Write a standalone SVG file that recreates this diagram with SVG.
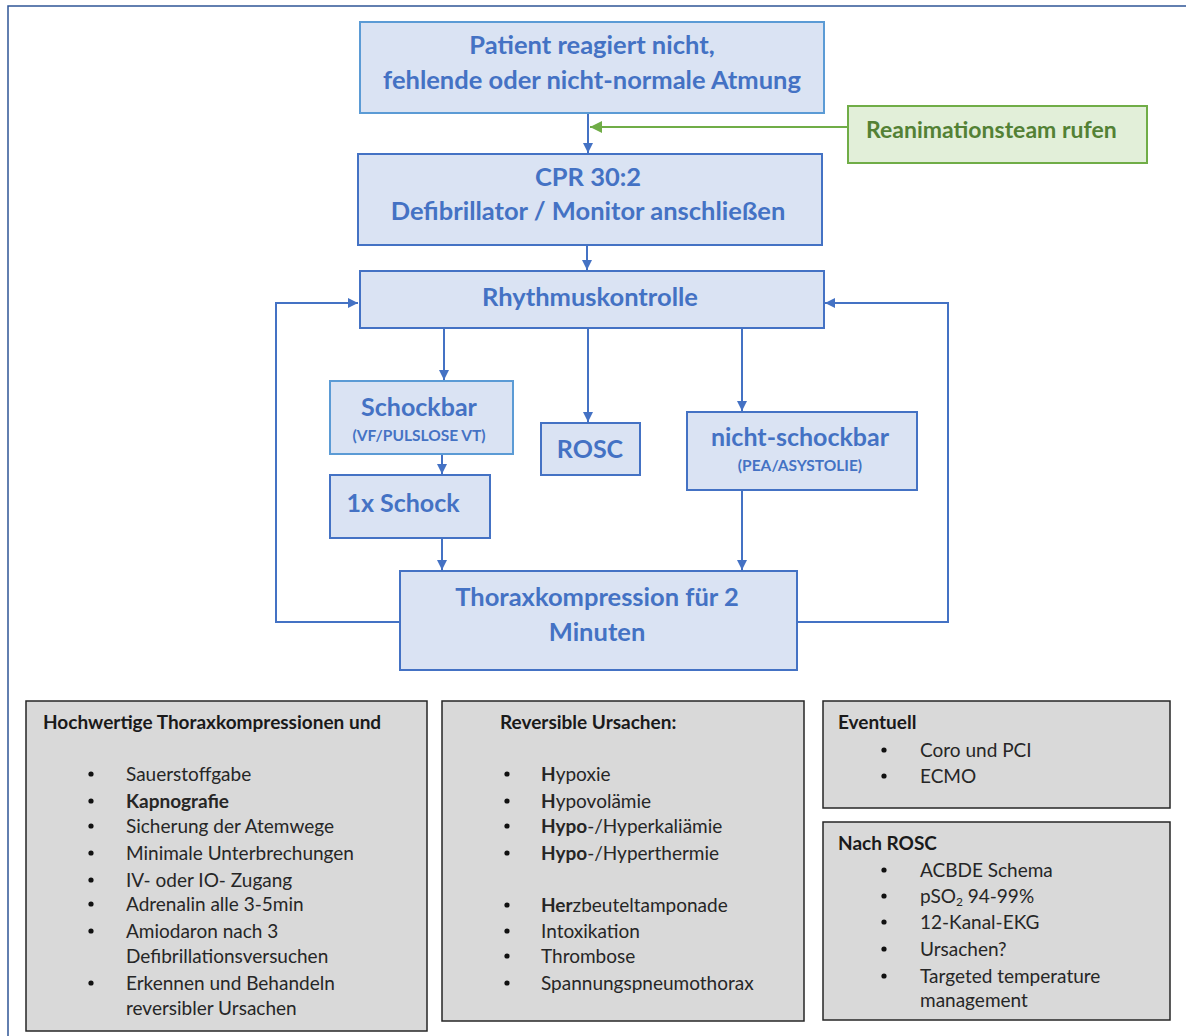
<svg xmlns="http://www.w3.org/2000/svg" width="1186" height="1036" viewBox="0 0 1186 1036">
  <defs>
    <marker id="arrow" viewBox="0 0 10 10" refX="10" refY="5" markerWidth="10" markerHeight="10" markerUnits="userSpaceOnUse" orient="auto">
      <path d="M0,0 L10,5 L0,10 z" fill="#4472c4"/>
    </marker>
    <marker id="arrow-green" viewBox="0 0 10 10" refX="10" refY="5" markerWidth="12" markerHeight="12" markerUnits="userSpaceOnUse" orient="auto">
      <path d="M0,0 L10,5 L0,10 z" fill="#70ad47"/>
    </marker>
    <style>
      .box { fill: #dae3f3; stroke: #4472c4; stroke-width: 2; }
      .box-light { fill: #dae3f3; stroke: #5b9bd5; stroke-width: 2; }
      .green { fill: #e2efd9; stroke: #70ad47; stroke-width: 2; }
      .grey { fill: #d9d9d9; stroke: #262626; stroke-width: 1.5; }
      .t { font-family: Lato, "Open Sans", sans-serif; font-weight: bold; fill: #4472c4; text-anchor: middle; }
      .tg { font-family: Lato, "Open Sans", sans-serif; font-weight: bold; fill: #538135; }
      .h { font-family: Lato, "Open Sans", sans-serif; font-weight: bold; fill: #1a1a1a; font-size: 19px; }
      .b { font-family: Lato, "Open Sans", sans-serif; fill: #262626; font-size: 19px; }
      .b tspan.k { font-weight: bold; }
      .dot { fill: #111; }
      .conn { fill: none; stroke: #4472c4; stroke-width: 2; }
      .conn-g { fill: none; stroke: #70ad47; stroke-width: 2; }
    </style>
  </defs>

  <rect width="1186" height="1036" fill="#ffffff"/>
  <!-- page frame -->
  <rect x="8" y="6" width="1200" height="1100" fill="none" stroke="#2f5597" stroke-width="1.5"/>

  <!-- connectors -->
  <g id="connectors">
    <line class="conn" x1="588" y1="113" x2="588" y2="153" marker-end="url(#arrow)"/>
    <line class="conn-g" x1="848" y1="127" x2="590" y2="127" marker-end="url(#arrow-green)"/>
    <line class="conn" x1="587" y1="245" x2="587" y2="270" marker-end="url(#arrow)"/>
    <line class="conn" x1="444" y1="328" x2="444" y2="380" marker-end="url(#arrow)"/>
    <line class="conn" x1="588" y1="328" x2="588" y2="422" marker-end="url(#arrow)"/>
    <line class="conn" x1="742" y1="328" x2="742" y2="411" marker-end="url(#arrow)"/>
    <line class="conn" x1="442" y1="454" x2="442" y2="474" marker-end="url(#arrow)"/>
    <line class="conn" x1="442" y1="538" x2="442" y2="570" marker-end="url(#arrow)"/>
    <line class="conn" x1="742" y1="490" x2="742" y2="570" marker-end="url(#arrow)"/>
    <polyline class="conn" points="400,622 276,622 276,303 358,303" marker-end="url(#arrow)"/>
    <polyline class="conn" points="797,622 948,622 948,303 825,303" marker-end="url(#arrow)"/>
  </g>

  <g id="patient">
    <rect class="box-light" x="360" y="22" width="464" height="91"/>
    <text class="t" x="592" y="54" font-size="25.5">Patient reagiert nicht,</text>
    <text class="t" x="592" y="89" font-size="25.5">fehlende oder nicht-normale Atmung</text>
  </g>

  <g id="team">
    <rect class="green" x="848" y="106" width="299" height="57"/>
    <text class="tg" x="866" y="138" font-size="23">Reanimationsteam rufen</text>
  </g>

  <g id="cpr">
    <rect class="box" x="358" y="154" width="464" height="91"/>
    <text class="t" x="588" y="186" font-size="25.5">CPR 30:2</text>
    <text class="t" x="588" y="220" font-size="25.5">Defibrillator / Monitor anschließen</text>
  </g>

  <g id="rhythmus">
    <rect class="box" x="360" y="271" width="464" height="57"/>
    <text class="t" x="590" y="306" font-size="25.5">Rhythmuskontrolle</text>
  </g>

  <g id="schockbar">
    <rect class="box-light" x="330" y="381" width="183" height="73"/>
    <text class="t" x="419" y="416" font-size="25">Schockbar</text>
    <text class="t" x="419" y="441" font-size="15.5">(VF/PULSLOSE VT)</text>
  </g>

  <g id="rosc">
    <rect class="box" x="541" y="423" width="99" height="52"/>
    <text class="t" x="590" y="458" font-size="25">ROSC</text>
  </g>

  <g id="nicht-schockbar">
    <rect class="box" x="687" y="412" width="230" height="78"/>
    <text class="t" x="800" y="446" font-size="25">nicht-schockbar</text>
    <text class="t" x="800" y="471" font-size="15.5">(PEA/ASYSTOLIE)</text>
  </g>

  <g id="schock">
    <rect class="box" x="330" y="475" width="160" height="63"/>
    <text class="t" x="403" y="512" font-size="25">1x Schock</text>
  </g>

  <g id="thorax">
    <rect class="box" x="400" y="571" width="397" height="99"/>
    <text class="t" x="597" y="606" font-size="25.5">Thoraxkompression für 2</text>
    <text class="t" x="597" y="641" font-size="25.5">Minuten</text>
  </g>

  <g id="massnahmen">
    <rect class="grey" x="26" y="701" width="401" height="330"/>
    <text class="h" x="43" y="729">Hochwertige Thoraxkompressionen und</text>
    <g class="dot">
      <circle cx="91" cy="774" r="2.6"/><circle cx="91" cy="801" r="2.6"/>
      <circle cx="91" cy="826" r="2.6"/><circle cx="91" cy="853" r="2.6"/>
      <circle cx="91" cy="880" r="2.6"/><circle cx="91" cy="904" r="2.6"/>
      <circle cx="91" cy="931" r="2.6"/><circle cx="91" cy="983" r="2.6"/>
    </g>
    <text class="b" x="126" y="781">Sauerstoffgabe</text>
    <text class="b" x="126" y="808"><tspan class="k">Kapnografie</tspan></text>
    <text class="b" x="126" y="833">Sicherung der Atemwege</text>
    <text class="b" x="126" y="860">Minimale Unterbrechungen</text>
    <text class="b" x="126" y="887">IV- oder IO- Zugang</text>
    <text class="b" x="126" y="911">Adrenalin alle 3-5min</text>
    <text class="b" x="126" y="938">Amiodaron nach 3</text>
    <text class="b" x="126" y="963">Defibrillationsversuchen</text>
    <text class="b" x="126" y="990">Erkennen und Behandeln</text>
    <text class="b" x="126" y="1015">reversibler Ursachen</text>
  </g>

  <g id="ursachen">
    <rect class="grey" x="442" y="701" width="362" height="320"/>
    <text class="h" x="500" y="729">Reversible Ursachen:</text>
    <g class="dot">
      <circle cx="507" cy="774" r="2.6"/><circle cx="507" cy="801" r="2.6"/>
      <circle cx="507" cy="826" r="2.6"/><circle cx="507" cy="853" r="2.6"/>
      <circle cx="507" cy="905" r="2.6"/><circle cx="507" cy="931" r="2.6"/>
      <circle cx="507" cy="956" r="2.6"/><circle cx="507" cy="983" r="2.6"/>
    </g>
    <text class="b" x="541" y="781"><tspan class="k">H</tspan>ypoxie</text>
    <text class="b" x="541" y="808"><tspan class="k">H</tspan>ypovolämie</text>
    <text class="b" x="541" y="833"><tspan class="k">Hypo</tspan>-/Hyperkaliämie</text>
    <text class="b" x="541" y="860"><tspan class="k">Hypo</tspan>-/Hyperthermie</text>
    <text class="b" x="541" y="912"><tspan class="k">Her</tspan>zbeuteltamponade</text>
    <text class="b" x="541" y="938">Intoxikation</text>
    <text class="b" x="541" y="963">Thrombose</text>
    <text class="b" x="541" y="990">Spannungspneumothorax</text>
  </g>

  <g id="eventuell">
    <rect class="grey" x="823" y="701" width="347" height="107"/>
    <text class="h" x="838" y="729">Eventuell</text>
    <g class="dot">
      <circle cx="884" cy="750" r="2.6"/><circle cx="884" cy="776" r="2.6"/>
    </g>
    <text class="b" x="920" y="757">Coro und PCI</text>
    <text class="b" x="920" y="783">ECMO</text>
  </g>

  <g id="nach-rosc">
    <rect class="grey" x="823" y="822" width="347" height="198"/>
    <text class="h" x="838" y="850">Nach ROSC</text>
    <g class="dot">
      <circle cx="884" cy="870" r="2.6"/><circle cx="884" cy="896" r="2.6"/>
      <circle cx="884" cy="922" r="2.6"/><circle cx="884" cy="949" r="2.6"/>
      <circle cx="884" cy="976" r="2.6"/>
    </g>
    <text class="b" x="920" y="877">ACBDE Schema</text>
    <text class="b" x="920" y="903">pSO<tspan font-size="12" dy="3">2</tspan><tspan dy="-3"> 94-99%</tspan></text>
    <text class="b" x="920" y="929">12-Kanal-EKG</text>
    <text class="b" x="920" y="956">Ursachen?</text>
    <text class="b" x="920" y="983">Targeted temperature</text>
    <text class="b" x="920" y="1007">management</text>
  </g>
</svg>
